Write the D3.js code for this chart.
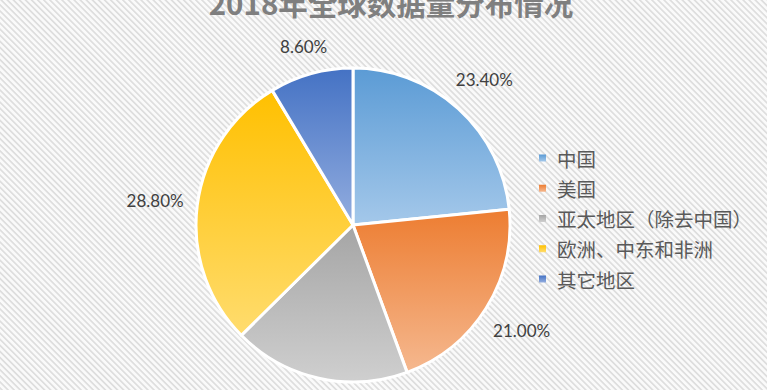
<!DOCTYPE html>
<html><head><meta charset="utf-8">
<script src="https://cdn.jsdelivr.net/npm/d3@7"></script>
<style>html,body{margin:0;padding:0;background:#fff;overflow:hidden}</style>
</head><body>
<svg id="c" width="767" height="390"></svg>
<script>
const title = "2018年全球数据量分布情况";
const categories = ["中国", "美国", "亚太地区（除去中国）", "欧洲、中东和非洲", "其它地区"];
const values = [23.4, 21.0, 18.2, 28.8, 8.6];
const labels = ["23.40%", "21.00%", "18.20%", "28.80%", "8.60%"];
const topColors = ["#5b9bd5", "#ed7d31", "#a5a5a5", "#ffc000", "#4472c4"];
const bottomColors = ["#a4c8ea", "#f5b88f", "#cfcfcf", "#ffdc6e", "#93addf"];

const W = 767, H = 390;
const cx = 353, cy = 225, R = 157;
const svg = d3.select("#c");
const defs = svg.append("defs");

const pat = defs.append("pattern").attr("id", "stripes")
  .attr("patternUnits", "userSpaceOnUse").attr("width", 4.3).attr("height", 10)
  .attr("patternTransform", "rotate(-45)");
pat.append("rect").attr("width", 4.3).attr("height", 10).attr("fill", "#fafafa");
pat.append("rect").attr("width", 1.7).attr("height", 10).attr("fill", "#dedede");
svg.append("rect").attr("width", W).attr("height", H).attr("fill", "url(#stripes)");

categories.forEach((c, i) => {
  const g = defs.append("linearGradient").attr("id", "g" + i)
    .attr("x1", 0).attr("y1", 0).attr("x2", 0).attr("y2", 1);
  g.append("stop").attr("offset", "0%").attr("stop-color", topColors[i]);
  g.append("stop").attr("offset", "100%").attr("stop-color", bottomColors[i]);
});

const data = categories.map((c, i) => ({ c, v: values[i], label: labels[i], i }));
const pie = d3.pie().value(d => d.v).sort(null);
const arcs = pie(data);
const arc = d3.arc().innerRadius(0).outerRadius(R);

const g = svg.append("g").attr("transform", `translate(${cx},${cy})`);
g.selectAll("path").data(arcs).join("path")
  .attr("d", arc)
  .attr("fill", d => `url(#g${d.data.i})`)
  .attr("stroke", "#fff").attr("stroke-width", 3).attr("stroke-linejoin", "round");

// labels outside end
const lg = g.append("g");
arcs.forEach(a => {
  const t = lg.append("text").text(a.data.label)
    .attr("font-family", "Lato, 'Open Sans', sans-serif").attr("font-size", 17)
    .attr("fill", "#404040").attr("text-anchor", "middle").attr("dominant-baseline", "central");
  const w = t.node().getComputedTextLength();
  const ang = (a.startAngle + a.endAngle) / 2;
  const s = Math.sin(ang), c = -Math.cos(ang);
  const off = (w / 2) * Math.abs(s) + 9 * Math.abs(c);
  const r = R + 13 + off;
  t.attr("x", r * s).attr("y", r * c);
});

svg.append("text").text(title).attr("x", 391).attr("y", 15)
  .attr("text-anchor", "middle").attr("font-family", "'Noto Sans CJK SC', sans-serif")
  .attr("font-weight", "bold").attr("font-size", 29.5).attr("fill", "#7f7f7f");

const y = d3.scalePoint().domain(categories).range([158, 279]);
const leg = svg.append("g");
categories.forEach((c, i) => {
  leg.append("rect").attr("x", 539).attr("y", y(c) - 3.5).attr("width", 7).attr("height", 7)
    .attr("fill", `url(#g${i})`);
  leg.append("text").text(c).attr("x", 557).attr("y", y(c))
    .attr("dominant-baseline", "central")
    .attr("font-family", "'Noto Sans CJK SC', sans-serif").attr("font-size", 19.5)
    .attr("fill", "#595959");
});
</script>
</body></html>
